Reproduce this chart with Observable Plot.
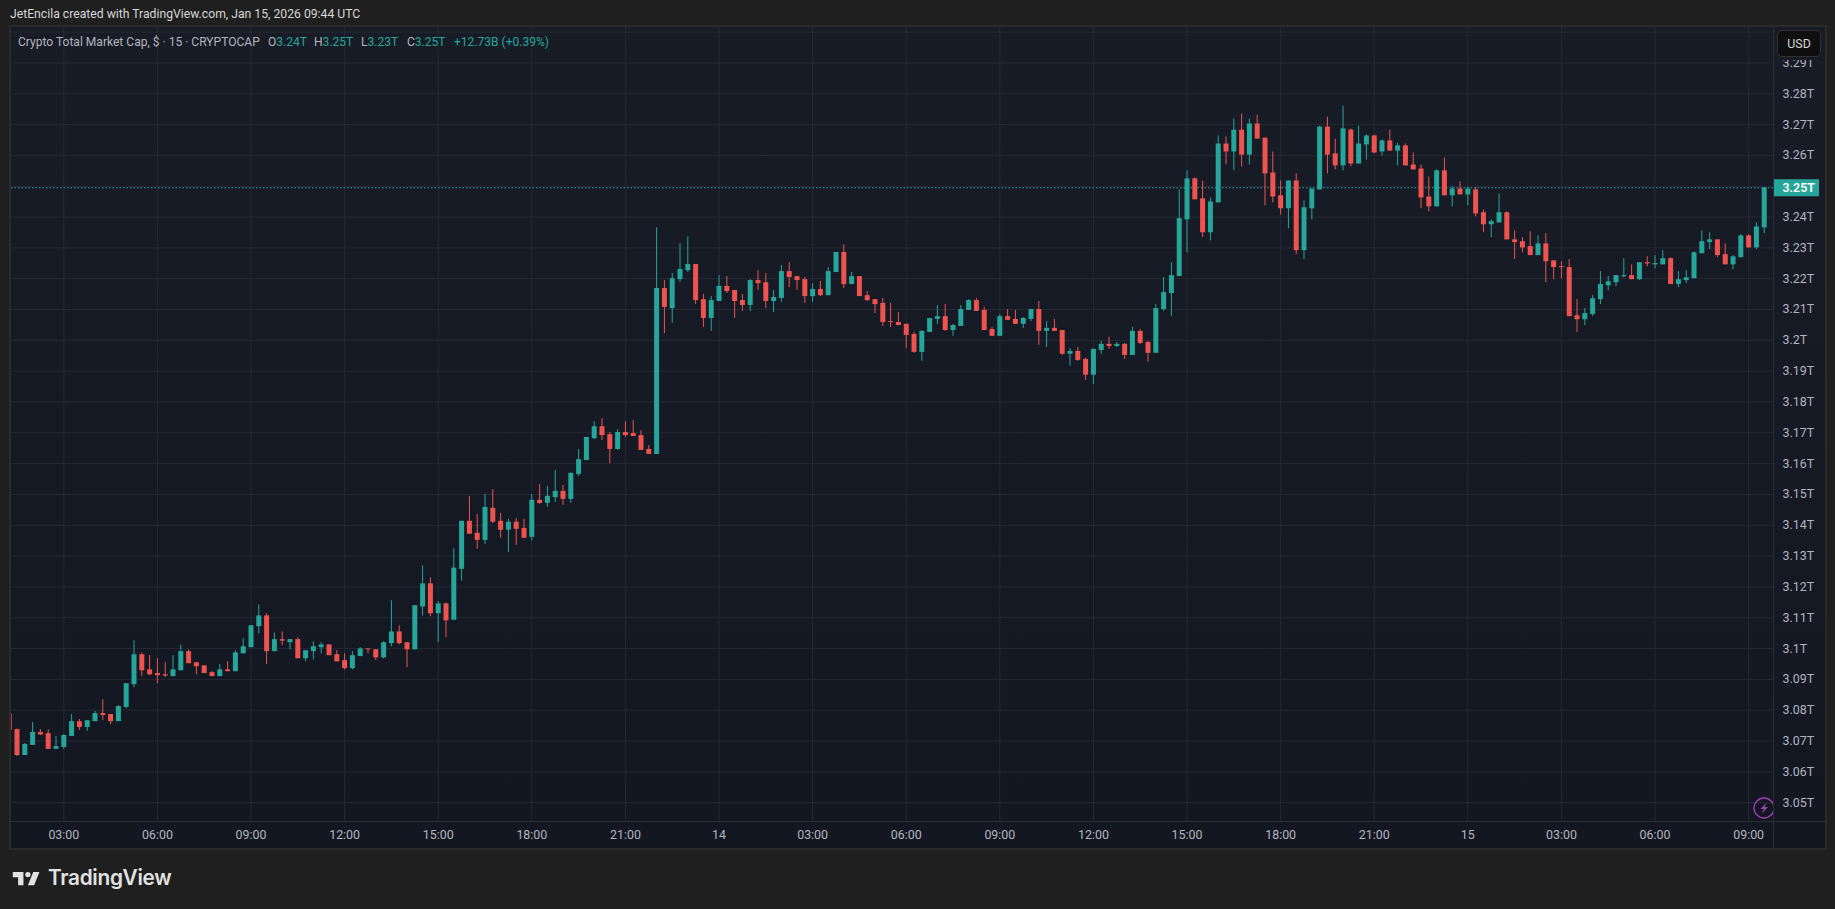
<!DOCTYPE html>
<html><head><meta charset="utf-8">
<script src="https://cdn.jsdelivr.net/npm/d3@7"></script>
<script src="https://cdn.jsdelivr.net/npm/@observablehq/plot@0.6"></script>
<style>
html,body{margin:0;padding:0;width:1835px;height:909px;overflow:hidden;background:#1f1f1f;font-family:Roboto,"Noto Sans",sans-serif}
.abs{position:absolute;white-space:nowrap}
#panel{left:9px;top:25px;width:1814px;height:821px;border:2px solid #2a2a2a;background:linear-gradient(#181c27,#131722)}
#chart{position:absolute;left:0;top:0}
.leg{font-size:12.05px;line-height:14px;top:35px;color:#b2b5be}
.teal{color:#26a69a}
</style></head><body>
<div class="abs" id="panel"></div>
<div id="chart"></div>
<div class="abs" style="left:10px;top:7px;font-size:12.2px;line-height:15px;color:#d6d6d6">JetEncila created with TradingView.com, Jan 15, 2026 09:44 UTC</div>
<div class="abs leg" style="left:18px">Crypto Total Market Cap, $ · 15 · CRYPTOCAP</div>
<div class="abs leg" style="left:268px">O<span class="teal">3.24T</span></div>
<div class="abs leg" style="left:314px">H<span class="teal">3.25T</span></div>
<div class="abs leg" style="left:361px">L<span class="teal">3.23T</span></div>
<div class="abs leg" style="left:407px">C<span class="teal">3.25T</span></div>
<div class="abs leg teal" style="left:454px">+12.73B (+0.39%)</div>
<div class="abs" style="left:1774px;top:27px;width:51px;height:33px;background:#181c27"></div>
<div class="abs" style="left:1777px;top:30px;width:44px;height:27px;box-sizing:border-box;background:#0f0f0f;border:1px solid #303030;border-radius:5px;color:#d6d6d6;font-size:12.4px;line-height:25px;text-align:center">USD</div>
<svg class="abs" style="left:1752px;top:796px" width="21" height="24" viewBox="0 0 21 24"><circle cx="12" cy="12" r="10" fill="none" stroke="#9c3fb0" stroke-width="1.4"/><path d="M14.5 6.5 8.5 13h3.4l-2 5 6-7h-3.4z" fill="#9c3fb0"/></svg>
<svg class="abs" style="left:11px;top:869px" width="32" height="20" viewBox="0 6 36 16"><path fill="#e2e2e2" d="M14 6H2v6h6v9h6V6Zm12 15h-7l6-15h7l-6 15Zm-7-9a3 3 0 1 0 0-6 3 3 0 0 0 0 6Z"/></svg>
<div class="abs" style="left:48px;top:864px;font-family:Inter,Lato,sans-serif;font-weight:600;font-size:20.8px;line-height:28px;letter-spacing:-.3px;color:#e2e2e2">TradingView</div>
<script>
const firstCandle = Date.UTC(2026, 0, 13, 1, 15);
const candleMs = 15 * 60000;
const opens = [3.0788,3.0737,3.0653,3.0686,3.0728,3.0724,3.0673,
3.0679,3.0715,3.0763,3.0744,3.0763,3.0789,3.0786,3.0763,3.0809,3.0883,
3.0980,3.0931,3.0919,3.0915,3.0909,3.0928,3.0990,3.0954,3.0944,3.0922,
3.0909,3.0931,3.0925,3.0983,3.1003,3.1071,3.1106,3.0990,3.1029,3.1019,
3.1029,3.0967,3.0990,3.1003,3.1012,3.0980,3.0961,3.0935,3.0974,3.0999,
3.0996,3.0970,3.1016,3.1054,3.1019,3.0996,3.1135,3.1210,3.1113,3.1145,
3.1092,3.1257,3.1413,3.1374,3.1351,3.1455,3.1413,3.1384,3.1410,3.1390,
3.1361,3.1481,3.1471,3.1490,3.1510,3.1484,3.1565,3.1610,3.1681,3.1720,
3.1694,3.1646,3.1701,3.1698,3.1691,3.1646,3.1630,3.2168,3.2103,3.2197,
3.2226,3.2246,3.2132,3.2071,3.2126,3.2175,3.2162,3.2129,3.2113,3.2194,
3.2187,3.2126,3.2136,3.2223,3.2207,3.2197,3.2142,3.2165,3.2145,3.2220,
3.2285,3.2181,3.2207,3.2145,3.2132,3.2120,3.2061,3.2058,3.2052,3.2019,
3.1961,3.2026,3.2068,3.2077,3.2032,3.2045,3.2097,3.2129,3.2097,3.2035,
3.2013,3.2077,3.2068,3.2052,3.2068,3.2100,3.2029,3.2039,3.2032,3.1955,
3.1964,3.1938,3.1887,3.1967,3.1987,3.1980,3.1987,3.1951,3.2029,3.1993,
3.1958,3.2100,3.2152,3.2207,3.2391,3.2524,3.2459,3.2349,3.2446,3.2637,
3.2611,3.2682,3.2601,3.2702,3.2656,3.2543,3.2469,3.2427,3.2517,3.2291,
3.2427,3.2488,3.2692,3.2605,3.2566,3.2682,3.2572,3.2634,3.2663,3.2611,
3.2647,3.2614,3.2631,3.2569,3.2556,3.2465,3.2433,3.2550,3.2469,3.2491,
3.2472,3.2488,3.2414,3.2375,3.2381,3.2414,3.2326,3.2320,3.2304,3.2275,
3.2313,3.2258,3.2239,3.2236,3.2080,3.2067,3.2084,3.2132,3.2177,3.2187,
3.2206,3.2210,3.2197,3.2252,3.2245,3.2245,3.2265,3.2181,3.2194,3.2200,
3.2281,3.2317,3.2326,3.2278,3.2245,3.2268,3.2339,3.2300,3.2365];
const highs = [3.0788,3.0739,3.0692,3.0760,3.0737,3.0737,3.0715,
3.0721,3.0786,3.0770,3.0766,3.0796,3.0834,3.0786,3.0815,3.0886,3.1025,
3.0986,3.0977,3.0967,3.0954,3.0977,3.1012,3.0996,3.0954,3.0944,3.0925,
3.0948,3.0957,3.0993,3.1032,3.1074,3.1142,3.1113,3.1051,3.1054,3.1029,
3.1035,3.0993,3.1022,3.1019,3.1012,3.0993,3.0983,3.0990,3.1003,3.0999,
3.0996,3.1022,3.1155,3.1074,3.1019,3.1139,3.1268,3.1229,3.1152,3.1148,
3.1324,3.1413,3.1494,3.1435,3.1500,3.1516,3.1439,3.1419,3.1422,3.1419,
3.1500,3.1532,3.1526,3.1578,3.1529,3.1571,3.1646,3.1685,3.1736,3.1746,
3.1701,3.1710,3.1736,3.1740,3.1707,3.1659,3.2365,3.2194,3.2217,3.2314,
3.2336,3.2246,3.2149,3.2142,3.2210,3.2207,3.2162,3.2149,3.2197,3.2226,
3.2217,3.2162,3.2243,3.2252,3.2207,3.2204,3.2184,3.2191,3.2236,3.2285,
3.2310,3.2220,3.2207,3.2158,3.2132,3.2136,3.2120,3.2090,3.2052,3.2026,
3.2032,3.2071,3.2113,3.2116,3.2052,3.2113,3.2132,3.2136,3.2107,3.2042,
3.2084,3.2100,3.2097,3.2074,3.2100,3.2126,3.2061,3.2068,3.2032,3.1974,
3.1977,3.1942,3.1971,3.1997,3.2010,3.1993,3.1990,3.2042,3.2035,3.1997,
3.2116,3.2204,3.2252,3.2488,3.2550,3.2527,3.2517,3.2462,3.2663,3.2660,
3.2718,3.2734,3.2718,3.2731,3.2656,3.2611,3.2517,3.2517,3.2540,3.2453,
3.2491,3.2695,3.2724,3.2653,3.2760,3.2686,3.2695,3.2666,3.2666,3.2650,
3.2682,3.2640,3.2637,3.2608,3.2569,3.2530,3.2553,3.2592,3.2498,3.2514,
3.2498,3.2495,3.2423,3.2391,3.2475,3.2417,3.2355,3.2333,3.2352,3.2339,
3.2346,3.2258,3.2255,3.2262,3.2132,3.2103,3.2145,3.2223,3.2207,3.2210,
3.2265,3.2245,3.2252,3.2271,3.2275,3.2291,3.2268,3.2223,3.2226,3.2287,
3.2355,3.2349,3.2326,3.2313,3.2275,3.2343,3.2343,3.2381,3.2495];
const lows = [3.0734,3.0650,3.0653,3.0686,3.0718,3.0673,3.0673,
3.0673,3.0715,3.0734,3.0731,3.0763,3.0766,3.0753,3.0763,3.0805,3.0873,
3.0909,3.0912,3.0886,3.0906,3.0909,3.0928,3.0951,3.0915,3.0919,3.0909,
3.0909,3.0925,3.0925,3.0983,3.1003,3.1048,3.0948,3.0990,3.1009,3.0996,
3.0967,3.0957,3.0964,3.0983,3.0977,3.0957,3.0931,3.0931,3.0974,3.0983,
3.0961,3.0967,3.1006,3.1012,3.0938,3.0996,3.1106,3.1103,3.1019,3.1035,
3.1092,3.1219,3.1371,3.1322,3.1338,3.1406,3.1358,3.1312,3.1335,3.1358,
3.1348,3.1468,3.1458,3.1474,3.1465,3.1471,3.1558,3.1610,3.1678,3.1675,
3.1600,3.1643,3.1685,3.1688,3.1643,3.1630,3.1630,3.2022,3.2055,3.2187,
3.2220,3.2116,3.2042,3.2029,3.2126,3.2152,3.2071,3.2094,3.2094,3.2162,
3.2103,3.2090,3.2123,3.2171,3.2162,3.2120,3.2123,3.2142,3.2145,3.2220,
3.2168,3.2181,3.2142,3.2126,3.2087,3.2045,3.2042,3.2048,3.1974,3.1958,
3.1932,3.2026,3.2052,3.2029,3.2013,3.2045,3.2097,3.2094,3.2032,3.2013,
3.2013,3.2065,3.2052,3.2039,3.2061,3.1984,3.1977,3.2029,3.1951,3.1916,
3.1932,3.1870,3.1857,3.1955,3.1971,3.1977,3.1938,3.1951,3.1987,3.1929,
3.1958,3.2094,3.2077,3.2207,3.2284,3.2456,3.2333,3.2323,3.2446,3.2569,
3.2550,3.2563,3.2569,3.2653,3.2436,3.2446,3.2407,3.2362,3.2278,3.2262,
3.2391,3.2488,3.2540,3.2553,3.2550,3.2563,3.2572,3.2585,3.2605,3.2598,
3.2614,3.2566,3.2566,3.2553,3.2427,3.2417,3.2433,3.2469,3.2433,3.2472,
3.2436,3.2401,3.2349,3.2333,3.2381,3.2326,3.2262,3.2284,3.2275,3.2275,
3.2187,3.2197,3.2200,3.2077,3.2025,3.2048,3.2077,3.2116,3.2161,3.2174,
3.2203,3.2197,3.2194,3.2239,3.2232,3.2245,3.2181,3.2171,3.2184,3.2200,
3.2281,3.2294,3.2268,3.2245,3.2229,3.2268,3.2300,3.2294,3.2346];
const closes = [3.0734,3.0653,3.0689,3.0728,3.0720,3.0673,3.0682,
3.0718,3.0763,3.0744,3.0766,3.0789,3.0783,3.0763,3.0812,3.0886,3.0980,
3.0928,3.0915,3.0912,3.0911,3.0931,3.0990,3.0951,3.0941,3.0919,3.0909,
3.0931,3.0925,3.0986,3.1006,3.1074,3.1106,3.0990,3.1029,3.1024,3.1029,
3.0967,3.0993,3.1006,3.1012,3.0977,3.0957,3.0935,3.0977,3.0999,3.0996,
3.0970,3.1019,3.1054,3.1016,3.0996,3.1139,3.1210,3.1113,3.1145,3.1090,
3.1261,3.1413,3.1371,3.1351,3.1458,3.1410,3.1384,3.1410,3.1387,3.1358,
3.1481,3.1471,3.1494,3.1510,3.1484,3.1568,3.1613,3.1685,3.1720,3.1691,
3.1646,3.1701,3.1691,3.1688,3.1643,3.1630,3.2168,3.2107,3.2200,3.2230,
3.2246,3.2129,3.2071,3.2129,3.2175,3.2158,3.2126,3.2113,3.2194,3.2184,
3.2126,3.2139,3.2223,3.2204,3.2194,3.2142,3.2165,3.2145,3.2223,3.2285,
3.2181,3.2207,3.2142,3.2129,3.2116,3.2058,3.2058,3.2048,3.2016,3.1961,
3.2029,3.2071,3.2077,3.2032,3.2048,3.2100,3.2129,3.2094,3.2032,3.2013,
3.2077,3.2065,3.2052,3.2071,3.2100,3.2029,3.2039,3.2029,3.1955,3.1964,
3.1935,3.1887,3.1971,3.1987,3.1980,3.1987,3.1951,3.2029,3.1990,3.1958,
3.2103,3.2155,3.2210,3.2395,3.2524,3.2456,3.2349,3.2449,3.2637,3.2611,
3.2682,3.2601,3.2702,3.2653,3.2540,3.2465,3.2427,3.2517,3.2291,3.2430,
3.2491,3.2692,3.2601,3.2566,3.2686,3.2572,3.2637,3.2663,3.2608,3.2647,
3.2614,3.2631,3.2566,3.2553,3.2462,3.2433,3.2550,3.2469,3.2491,3.2472,
3.2491,3.2410,3.2375,3.2385,3.2414,3.2326,3.2317,3.2300,3.2275,3.2313,
3.2255,3.2236,3.2236,3.2077,3.2067,3.2087,3.2135,3.2181,3.2190,3.2210,
3.2210,3.2197,3.2252,3.2248,3.2249,3.2265,3.2181,3.2197,3.2203,3.2284,
3.2320,3.2326,3.2275,3.2245,3.2271,3.2339,3.2300,3.2368,3.2495];
const priceTicks = d3.range(5, 30).map(v => +(3 + v / 100).toFixed(2));
const priceGrid = [...priceTicks, 3.30];
const timeTicks = d3.range(0, 19).map(i => new Date(Date.UTC(2026, 0, 13, 3 + 3 * i)));
const upColor = "#26a69a", downColor = "#ef5350", gridColor = "#252933", textColor = "#b2b5be";
const lastClose = closes[closes.length - 1];
const candles = closes.map((c, i) => ({t: new Date(firstCandle + i * candleMs), o: opens[i], h: highs[i], l: lows[i], c}));
const color = d => d.c >= d.o ? upColor : downColor;
const fmtT = v => `${+v.toFixed(2)}T`;
const fmtX = d => d.getUTCHours() === 0 ? String(d.getUTCDate()) : d3.utcFormat("%H:%M")(d);

const plot = Plot.plot({
  width: 1835, height: 909,
  marginLeft: 11, marginRight: 62, marginTop: 27, marginBottom: 88,
  style: {background: "transparent", fontFamily: "Roboto, 'Noto Sans', sans-serif", fontSize: "12.4px"},
  x: {type: "utc", domain: [new Date(Date.UTC(2026, 0, 13, 1, 19, 25)), new Date(Date.UTC(2026, 0, 15, 9, 47, 50))]},
  y: {domain: [3.0439, 3.3015]},
  marks: [
    Plot.gridX(timeTicks, {x: d => d, stroke: gridColor, strokeOpacity: 1}),
    Plot.gridY(priceGrid, {y: d => d, stroke: gridColor, strokeOpacity: 1}),
    Plot.ruleX([0], {x: () => new Date(Date.UTC(2026, 0, 15, 9, 47, 50)), stroke: "#2a2e39", insetBottom: -27}),
    Plot.ruleY([3.0439], {stroke: "#2a2e39", insetRight: -52}),
    Plot.ruleY([lastClose], {stroke: upColor, strokeDasharray: "1.5 2", strokeWidth: 1}),
    Plot.ruleX(candles, {x: "t", y1: "l", y2: "h", stroke: color, strokeWidth: 1, clip: true}),
    Plot.ruleX(candles, {x: "t", y1: "o", y2: "c", stroke: color, strokeWidth: 5, clip: true}),
    Plot.axisY({anchor: "right", ticks: priceTicks, tickFormat: fmtT, tickSize: 0, tickPadding: 9, color: textColor, label: null, fontSize: 12.4}),
    Plot.axisX({anchor: "bottom", ticks: timeTicks, tickFormat: fmtX, tickSize: 0, tickPadding: 9, color: textColor, label: null, fontSize: 12.4}),
    Plot.ruleY([lastClose], {stroke: upColor, strokeWidth: 17, insetLeft: 1763, insetRight: -46}),
    Plot.text([lastClose], {y: d => d, frameAnchor: "right", textAnchor: "start", dx: 9, text: fmtT, fill: "#ffffff", fontWeight: 600, fontSize: 12.4})
  ]
});
document.getElementById("chart").appendChild(plot);
</script>
</body></html>
